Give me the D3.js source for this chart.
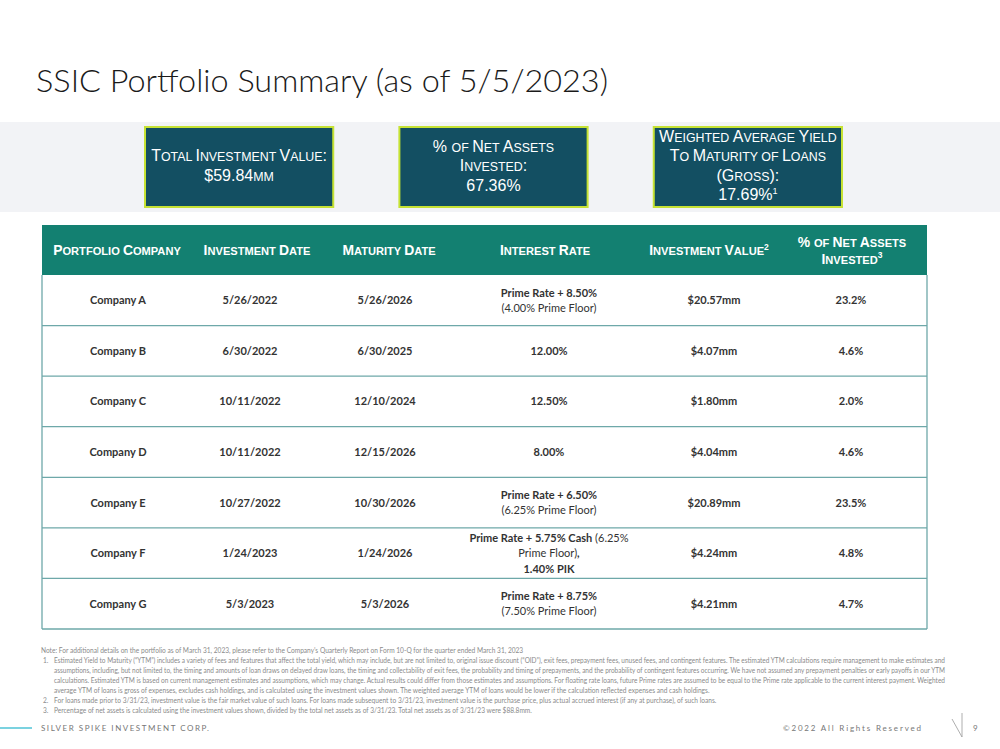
<!DOCTYPE html>
<html><head><meta charset="utf-8">
<script src="https://cdn.jsdelivr.net/npm/d3@7"></script>
<style>body{margin:0;background:#fff}svg{display:block}</style>
</head><body><svg id="c" width="1000" height="749"></svg>
<script>
// ---------------- DATA ----------------
const titleText = "SSIC Portfolio Summary (as of 5/5/2023)";
const summaryLabels = [["Total Investment Value:"], ["% of Net Assets", "Invested:"], ["Weighted Average Yield", "To Maturity of Loans", "(Gross):"]];
const summaryValues = ["$59.84mm", "67.36%", "17.69%"];
const summarySups = ["", "", "1"];

const headerLines = [["Portfolio Company"], ["Investment Date"], ["Maturity Date"], ["Interest Rate"], ["Investment Value"], ["% of Net Assets", "Invested"]];
const headerSups = ["", "", "", "", "2", "3"];

const companies = ["Company A", "Company B", "Company C", "Company D", "Company E", "Company F", "Company G"];
const investmentDates = ["5/26/2022", "6/30/2022", "10/11/2022", "10/11/2022", "10/27/2022", "1/24/2023", "5/3/2023"];
const maturityDates = ["5/26/2026", "6/30/2025", "12/10/2024", "12/15/2026", "10/30/2026", "1/24/2026", "5/3/2026"];
// each rate: lines -> segments [text, bold]
const interestRates = [
  [[["Prime Rate + 8.50%", true]], [["(4.00% Prime Floor)", false]]],
  [[["12.00%", true]]],
  [[["12.50%", true]]],
  [[["8.00%", true]]],
  [[["Prime Rate + 6.50%", true]], [["(6.25% Prime Floor)", false]]],
  [[["Prime Rate + 5.75% Cash", true], [" (6.25%", false]], [["Prime Floor)", false], [",", true]], [["1.40% PIK", true]]],
  [[["Prime Rate + 8.75%", true]], [["(7.50% Prime Floor)", false]]]
];
const investmentValues = ["$20.57mm", "$4.07mm", "$1.80mm", "$4.04mm", "$20.89mm", "$4.24mm", "$4.21mm"];
const pctNetAssets = ["23.2%", "4.6%", "2.0%", "4.6%", "23.5%", "4.8%", "4.7%"];

const footnotes = [
  {num: "", text: "Note: For additional details on the portfolio as of March 31, 2023, please refer to the Company’s Quarterly Report on Form 10-Q for the quarter ended March 31, 2023", full: false},
  {num: "1.", text: "Estimated Yield to Maturity (“YTM”) includes a variety of fees and features that affect the total yield, which may include, but are not limited to, original issue discount (“OID”), exit fees, prepayment fees, unused fees, and contingent features. The estimated YTM calculations require management to make estimates and", full: true},
  {num: "", text: "assumptions, including, but not limited to, the timing and amounts of loan draws on delayed draw loans, the timing and collectability of exit fees, the probability and timing of prepayments, and the probability of contingent features occurring. We have not assumed any prepayment penalties or early payoffs in our YTM", full: true},
  {num: "", text: "calculations. Estimated YTM is based on current management estimates and assumptions, which may change. Actual results could differ from those estimates and assumptions. For floating rate loans, future Prime rates are assumed to be equal to the Prime rate applicable to the current interest payment. Weighted", full: true},
  {num: "", text: "average YTM of loans is gross of expenses, excludes cash holdings, and is calculated using the investment values shown. The weighted average YTM of loans would be lower if the calculation reflected expenses and cash holdings.", full: false},
  {num: "2.", text: "For loans made prior to 3/31/23, investment value is the fair market value of such loans. For loans made subsequent to 3/31/23, investment value is the purchase price, plus actual accrued interest (if any at purchase), of such loans.", full: false},
  {num: "3.", text: "Percentage of net assets is calculated using the investment values shown, divided by the total net assets as of 3/31/23. Total net assets as of 3/31/23 were $88.8mm.", full: false}
];
const footerLeft = "SILVER SPIKE INVESTMENT CORP.";
const footerRight = "©2022 All Rights Reserved";
const pageNumber = "9";

// ---------------- LAYOUT ----------------
const svg = d3.select("#c");
const W = 1000;
const bodyFont = "Lato, 'Open Sans', sans-serif";
const arial = "'Liberation Sans', Arial, sans-serif";

function smallCaps(sel, str, big, small) {
  const runs = [];
  let prev = null;
  for (const ch of str) {
    let cls = /[a-z]/.test(ch) ? "s" : (ch === " " && prev ? prev : "b");
    if (runs.length && runs[runs.length - 1].cls === cls) runs[runs.length - 1].t += ch;
    else runs.push({cls, t: ch});
    prev = cls;
  }
  runs.forEach(r => {
    sel.append("tspan").attr("font-size", r.cls === "s" ? small : big).text(r.cls === "s" ? r.t.toUpperCase() : r.t);
  });
}

// Title
svg.append("text").attr("x", 36).attr("y", 92)
  .attr("font-family", bodyFont).attr("font-weight", 300).attr("font-size", 32)
  .attr("fill", "#1a1a1a").attr("textLength", 572).attr("lengthAdjust", "spacingAndGlyphs")
  .text(titleText);

// Gray band
svg.append("rect").attr("x", 0).attr("y", 122).attr("width", W).attr("height", 90).attr("fill", "#f2f3f6");

// Summary boxes
const boxX = d3.scaleBand().domain(d3.range(summaryLabels.length)).range([145, 842]).paddingInner(0.26);
summaryLabels.forEach((lines, i) => {
  const x0 = boxX(i), bw = boxX.bandwidth();
  svg.append("rect").attr("x", x0).attr("y", 127).attr("width", bw).attr("height", 80)
    .attr("fill", "#134f62").attr("stroke", "#c6e234").attr("stroke-width", 2);
  const all = lines.concat([summaryValues[i]]);
  const n = all.length, lh = 19.5, cy = 165.5;
  all.forEach((ln, j) => {
    const y = cy + (j - (n - 1) / 2) * lh + 5.5;
    const t = svg.append("text").attr("x", x0 + bw / 2).attr("y", y).attr("text-anchor", "middle")
      .attr("font-family", arial).attr("fill", "#ffffff");
    smallCaps(t, ln, 16, 12.4);
    if (j === n - 1 && summarySups[i]) {
      t.append("tspan").attr("font-size", 9).attr("dy", -6).text(summarySups[i]);
    }
  });
});

// Table
const tableL = 42, tableR = 927, headTop = 225, headBot = 275, tableBot = 629;
const headCenters = [117, 257, 389, 545, 709, 852];
const colCenters = [118, 250, 385, 549, 714, 851];
const rowY = d3.scaleBand().domain(companies).range([headBot, tableBot]);

svg.append("rect").attr("x", tableL).attr("y", headTop).attr("width", tableR - tableL).attr("height", headBot - headTop)
  .attr("fill", "#138071");

headerLines.forEach((lines, i) => {
  const n = lines.length, lh = 17, cy = (headTop + headBot) / 2;
  lines.forEach((ln, j) => {
    const t = svg.append("text").attr("x", headCenters[i]).attr("y", cy + (j - (n - 1) / 2) * lh + 5.2)
      .attr("text-anchor", "middle").attr("font-family", arial).attr("font-weight", 700).attr("fill", "#fff");
    smallCaps(t, ln, 13.9, 11.1);
    if (j === n - 1 && headerSups[i]) t.append("tspan").attr("font-size", 8.5).attr("dy", -5.5).text(headerSups[i]);
  });
});

const lineColor = "#6ea8a9";
companies.forEach(c => {
  svg.append("line").attr("x1", tableL).attr("x2", tableR)
    .attr("y1", rowY(c) + rowY.bandwidth()).attr("y2", rowY(c) + rowY.bandwidth())
    .attr("stroke", lineColor).attr("stroke-width", 1.3);
});
[tableL, tableR].forEach(x => {
  svg.append("line").attr("x1", x).attr("x2", x).attr("y1", headBot).attr("y2", tableBot)
    .attr("stroke", lineColor).attr("stroke-width", 1.3);
});

const textColor = "#333333";
function cell(x, y, str) {
  svg.append("text").attr("x", x).attr("y", y).attr("text-anchor", "middle")
    .attr("font-family", bodyFont).attr("font-weight", 700).attr("font-size", 11).attr("fill", textColor).text(str);
}
companies.forEach((c, i) => {
  const cy = rowY(c) + rowY.bandwidth() / 2 + 4;
  cell(colCenters[0], cy, c);
  cell(colCenters[1], cy, investmentDates[i]);
  cell(colCenters[2], cy, maturityDates[i]);
  cell(colCenters[4], cy, investmentValues[i]);
  cell(colCenters[5], cy, pctNetAssets[i]);
  const lines = interestRates[i], n = lines.length, lh = 15.5;
  lines.forEach((segs, j) => {
    const t = svg.append("text").attr("x", colCenters[3]).attr("y", cy + (j - (n - 1) / 2) * lh)
      .attr("text-anchor", "middle").attr("font-family", bodyFont).attr("font-size", 11).attr("fill", textColor);
    segs.forEach(s => t.append("tspan").attr("font-weight", s[1] ? 700 : 400).text(s[0]));
  });
});

// Footnotes
const fnY = d3.scalePoint().domain(d3.range(footnotes.length)).range([652.5, 712.5]);
footnotes.forEach((f, i) => {
  const y = fnY(i);
  if (f.num) svg.append("text").attr("x", 43).attr("y", y).attr("font-family", bodyFont).attr("font-size", 6.6)
    .attr("fill", "#8a8a8a").text(f.num);
  const x = i === 0 ? 41 : 54;
  const t = svg.append("text").attr("x", x).attr("y", y).attr("font-family", bodyFont).attr("font-size", 6.6)
    .attr("fill", "#8a8a8a").text(f.text);
  if (f.full) t.attr("textLength", 945 - x).attr("lengthAdjust", "spacingAndGlyphs");
});

// Footer
svg.append("line").attr("x1", 0).attr("x2", 32).attr("y1", 728).attr("y2", 728).attr("stroke", "#4fc3d6").attr("stroke-width", 1.5);
svg.append("text").attr("x", 41).attr("y", 731).attr("font-family", bodyFont).attr("font-size", 8).attr("fill", "#777")
  .attr("textLength", 168).attr("lengthAdjust", "spacing").text(footerLeft);
svg.append("text").attr("x", 783).attr("y", 731).attr("font-family", bodyFont).attr("font-size", 8).attr("fill", "#777")
  .attr("textLength", 138).attr("lengthAdjust", "spacing").text(footerRight);
svg.append("line").attr("x1", 952).attr("y1", 719).attr("x2", 962).attr("y2", 737).attr("stroke", "#999").attr("stroke-width", 0.8);
svg.append("line").attr("x1", 962).attr("y1", 713).attr("x2", 962).attr("y2", 737).attr("stroke", "#999").attr("stroke-width", 0.8);
svg.append("text").attr("x", 973).attr("y", 731).attr("font-family", bodyFont).attr("font-size", 8).attr("fill", "#777").text(pageNumber);
</script></body></html>
